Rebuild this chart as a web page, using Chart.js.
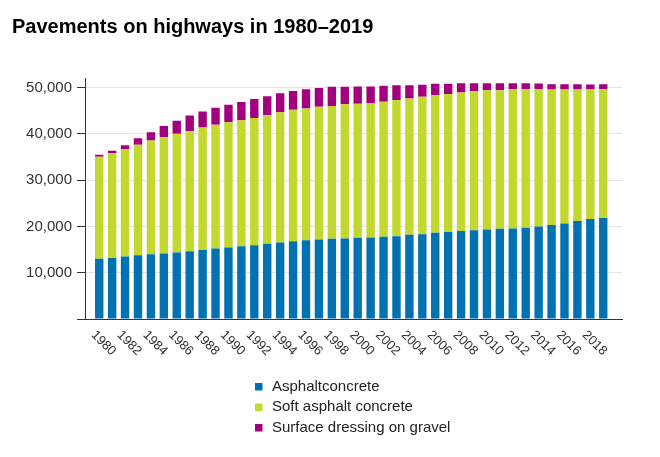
<!DOCTYPE html>
<html><head><meta charset="utf-8">
<script src="https://cdn.jsdelivr.net/npm/chart.js@4"></script>
<style>html,body{margin:0;padding:0;background:#fff}#wrap{width:660px;height:457px;position:relative}</style>
</head><body><div id="wrap"><canvas id="c"></canvas></div>
<script>
const years = [1980,1981,1982,1983,1984,1985,1986,1987,1988,1989,1990,1991,1992,1993,1994,1995,1996,1997,1998,1999,2000,2001,2002,2003,2004,2005,2006,2007,2008,2009,2010,2011,2012,2013,2014,2015,2016,2017,2018,2019];
const asphaltConcrete = [13040,13190,13480,13770,13990,14130,14350,14640,14930,15220,15440,15730,15940,16230,16520,16810,17030,17170,17320,17390,17540,17610,17750,17900,18190,18330,18620,18770,18990,19200,19350,19490,19570,19710,20000,20290,20650,21160,21590,21810];
const softAsphaltConcrete = [22000,22650,23240,23890,24550,25140,25650,25940,26460,26750,27040,27190,27490,27790,28150,28370,28440,28670,28670,29030,28960,29030,29180,29400,29470,29700,29770,29840,29920,30000,30070,29930,30070,29930,29640,29270,28910,28400,27970,27830];
const surfaceDressingOnGravel = [430,510,800,1390,1830,2410,2850,3360,3430,3650,3800,3940,4090,4080,4090,4090,4170,4090,4160,3730,3720,3580,3440,3210,2850,2550,2410,2190,2040,1750,1530,1530,1310,1310,1240,1170,1170,1170,1100,1090];
const seriesLabels = ['Asphaltconcrete','Soft asphalt concrete','Surface dressing on gravel'];
const xTickLabels = [1980,1982,1984,1986,1988,1990,1992,1994,1996,1998,2000,2002,2004,2006,2008,2010,2012,2014,2016,2018];
const yTickValues = [0,10000,20000,30000,40000,50000];
const titleText = 'Pavements on highways in 1980\u20132019';

const FONT = "'Liberation Sans', Arial, sans-serif";
const toXY = arr => arr.map((v, i) => ({x: years[i], y: v}));

const xLabelPlugin = {
  id: 'xLabels',
  afterDraw(chart) {
    const xs = chart.scales.x, ctx = chart.ctx;
    ctx.save();
    ctx.font = '13px ' + FONT;
    ctx.fillStyle = '#333';
    ctx.textAlign = 'left';
    ctx.textBaseline = 'middle';
    xTickLabels.forEach(v => {
      const px = xs.getPixelForValue(v);
      ctx.save();
      ctx.translate(px - 6, xs.top + 14);
      ctx.rotate(Math.PI / 4);
      ctx.fillText(String(v), 0, 0);
      ctx.restore();
    });
    ctx.restore();
  }
};

const legendPlugin = {
  id: 'customLegend',
  afterDraw(chart) {
    const ctx = chart.ctx;
    ctx.save();
    ctx.font = '15px ' + FONT;
    ctx.textAlign = 'left';
    ctx.textBaseline = 'middle';
    chart.data.datasets.forEach((ds, i) => {
      const cy = 386.5 + i * 20.5;
      ctx.fillStyle = ds.backgroundColor;
      ctx.fillRect(255, cy - 3.5, 7.5, 7.5);
      ctx.fillStyle = '#222';
      ctx.fillText(ds.label, 272, cy);
    });
    ctx.restore();
  }
};

new Chart(document.getElementById('c'), {
  type: 'bar',
  data: {
    datasets: [
      {label: seriesLabels[0], data: toXY(asphaltConcrete), backgroundColor: 'rgb(0,114,178)'},
      {label: seriesLabels[1], data: toXY(softAsphaltConcrete), backgroundColor: 'rgb(195,216,46)'},
      {label: seriesLabels[2], data: toXY(surfaceDressingOnGravel), backgroundColor: 'rgb(163,0,127)'}
    ]
  },
  options: {
    responsive: true,
    maintainAspectRatio: false,
    animation: false,
    layout: {padding: {left: 12, right: 38, top: 0, bottom: 78}},
    datasets: {bar: {barPercentage: 0.65, categoryPercentage: 1, borderWidth: 0}},
    plugins: {
      legend: {display: false},
      tooltip: {enabled: false},
      title: {
        display: true, text: titleText, align: 'start', color: '#000',
        font: {family: FONT, size: 20, weight: 'bold'},
        padding: {top: 15.5, bottom: 38.8}
      }
    },
    scales: {
      x: {
        type: 'linear', min: 1978.9, max: 2020.45, offset: false, stacked: true, z: 1,
        grid: {display: false},
        ticks: {display: false},
        border: {display: true, color: '#333', width: 1},
        afterFit(s) { s.height = 60; }
      },
      y: {
        type: 'linear', min: 0, max: 52000, stacked: true,
        afterBuildTicks(s) { s.ticks = yTickValues.map(v => ({value: v})); },
        afterFit(s) { s.width = 73; },
        ticks: {
          font: {family: FONT, size: 15}, color: '#333', padding: 5,
          callback: v => v === 0 ? '' : v.toLocaleString('en-US')
        },
        grid: {color: ctx => (ctx.tick && ctx.tick.value === 0) ? '#333' : '#e4e4e4', tickColor: '#333', tickLength: 8},
        border: {display: true, color: '#333', width: 1}
      }
    }
  },
  plugins: [xLabelPlugin, legendPlugin]
});
</script>
</body></html>
